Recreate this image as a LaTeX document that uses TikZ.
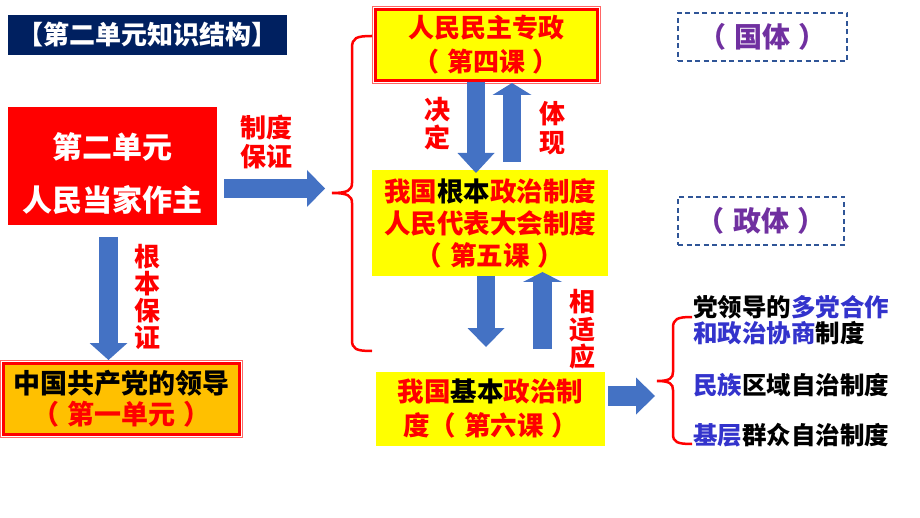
\documentclass[tikz,border=0pt]{standalone}
\usepackage{fontspec}
\setmainfont{Noto Sans CJK SC}
\usetikzlibrary{arrows.meta,calc}
\definecolor{cred}{RGB}{255,0,0}
\definecolor{cyel}{RGB}{255,255,0}
\definecolor{corg}{RGB}{255,192,0}
\definecolor{cblu}{RGB}{68,114,196}
\definecolor{cnavy}{RGB}{0,32,96}
\definecolor{cpur}{RGB}{112,48,160}
\definecolor{cdash}{RGB}{47,85,151}
\definecolor{ctxt}{RGB}{51,51,204}
\newcommand{\fs}[2]{\bfseries\fontsize{#1}{#2}\selectfont}
\newcommand{\pl}{（\hspace{0.3em}}
\newcommand{\pr}{\hspace{0.3em}）}
\begin{document}
\begin{tikzpicture}[x=1pt,y=-1pt,
  every node/.style={inner sep=0pt, outer sep=0pt},
  framed/.style={draw=cred, line width=3pt},
  dashbox/.style={draw=cdash, line width=2.5pt, dash pattern=on 5pt off 3.5pt, text=cpur, font=\fs{28}{28}},
  redlabel/.style={text=cred, align=center, font=\fs{26}{#1}},
  blockarrow/.style n args={3}{draw=cblu, line width=#1, -{Triangle[width=#2, length=#3, line width=0pt]}},
  rtext/.style={anchor=west, font=\fs{24.5}{26}},
  brace/.style={draw=cred, line width=2.5pt},
]
\useasboundingbox (0,0) rectangle (920,518);

% title
\node[fill=cnavy, minimum width=279, minimum height=40, text=white, font=\fs{26}{26}] (title) at (147.5,35) {【第二单元知识结构】};

% unit box
\node[fill=cred, minimum width=209, minimum height=118] (unit) at (112.5,166) {};
\node[text=white, align=center, font=\fs{30}{53}] (unittxt) at (112.5,173.5) {第二单元\\人民当家作主};

% leadership box
\node[fill=corg, framed, minimum width=236, minimum height=71, align=center, font=\fs{27}{31}] (lead) at (121.5,399) {中国共产党的领导\\\textcolor{cred}{\pl 第一单元\pr}};
\draw[cred!60, line width=0.8pt] ($(lead.north west)+(-3,-3)$) rectangle ($(lead.south east)+(3,3)$);

% top box
\node[fill=cyel, framed, minimum width=222, minimum height=71, text=cred, align=center, font=\fs{26}{34}] (zz) at (486,45) {人民民主专政\\\pl 第四课\pr};
\draw[cred!60, line width=0.8pt] ($(zz.north west)+(-3,-3)$) rectangle ($(zz.south east)+(3,3)$);

% middle box
\node[fill=cyel, minimum width=236, minimum height=106, text=cred, align=center, font=\fs{26.5}{32}] (mid) at (490,223) {我国\textcolor{black}{根本}政治制度\\人民代表大会制度\\\pl 第五课\pr};

% bottom box
\node[fill=cyel, minimum width=229, minimum height=74, text=cred, align=center, font=\fs{26.5}{34}] (bot) at (490.5,409) {我国\textcolor{black}{基本}政治制\\度\pl 第六课\pr};

% dashed boxes
\node[dashbox, minimum width=169, minimum height=48] (guoti) at (762.5,37) {\pl 国体\pr};
\node[dashbox, minimum width=166, minimum height=48] (zhengti) at (761,221) {\pl 政体\pr};

% labels
\node[redlabel=29] (zhidu) at (266,142.5) {制度\\保证};
\node[redlabel=26.7] (genben) at (147,297) {根\\本\\保\\证};
\node[redlabel=28] (jueding) at (437,124) {决\\定};
\node[redlabel=29] (tixian) at (552,128.5) {体\\现};
\node[redlabel=27.5] (xiang) at (582,329.5) {相\\适\\应};

% right texts
\node[rtext] (r1) at (693,307) {党领导的\textcolor{ctxt}{多党合作}};
\node[rtext] (r2) at (693,333) {\textcolor{ctxt}{和政治协商}制度};
\node[rtext] (r3) at (693,385) {\textcolor{ctxt}{民族}区域自治制度};
\node[rtext] (r4) at (693,435) {\textcolor{ctxt}{基层}群众自治制度};

% arrow end points
\coordinate (a1s) at (unit.east |- 0,188.5);
\coordinate (a1e) at (325,188.5);
\coordinate (a2s) at (108.5,237);
\coordinate (a2e) at (108.5,360);
\coordinate (a3s) at (476,82);
\coordinate (a3e) at (476,173);
\coordinate (a4s) at (512,162);
\coordinate (a4e) at (512,83);
\coordinate (a5s) at (486,276);
\coordinate (a5e) at (486,347);
\coordinate (a6s) at (542.5,349);
\coordinate (a6e) at (542.5,272);
\coordinate (a7s) at (608,396);
\coordinate (a7e) at (655,396);

\draw[blockarrow={19pt}{37pt}{18pt}] ($(a1s)+(7,0)$) -- (a1e);
\draw[blockarrow={19pt}{38pt}{17pt}] (a2s) -- (a2e);
\draw[blockarrow={18pt}{37pt}{20pt}] (a3s) -- (a3e);
\draw[blockarrow={18pt}{39pt}{12pt}] (a4s) -- (a4e);
\draw[blockarrow={18pt}{37pt}{19pt}] (a5s) -- (a5e);
\draw[blockarrow={19pt}{39pt}{10pt}] (a6s) -- (a6e);
\draw[blockarrow={20pt}{37pt}{19pt}] (a7s) -- (a7e);

% left brace
\draw[brace] (372,36) .. controls (356,36) and (352,38) .. (352,48) -- (352,183)
  .. controls (352,190) and (348,193) .. (332,193)
  .. controls (348,193) and (352,196) .. (352,203) -- (352,340)
  .. controls (352,349) and (356,351) .. (372,351);
% right brace
\draw[brace] (692,317) .. controls (677,317) and (673,319) .. (673,328) -- (673,372)
  .. controls (673,378) and (670,381) .. (657,381)
  .. controls (670,381) and (673,384) .. (673,390) -- (673,434)
  .. controls (673,442) and (677,444) .. (692,444);
\end{tikzpicture}
\end{document}
